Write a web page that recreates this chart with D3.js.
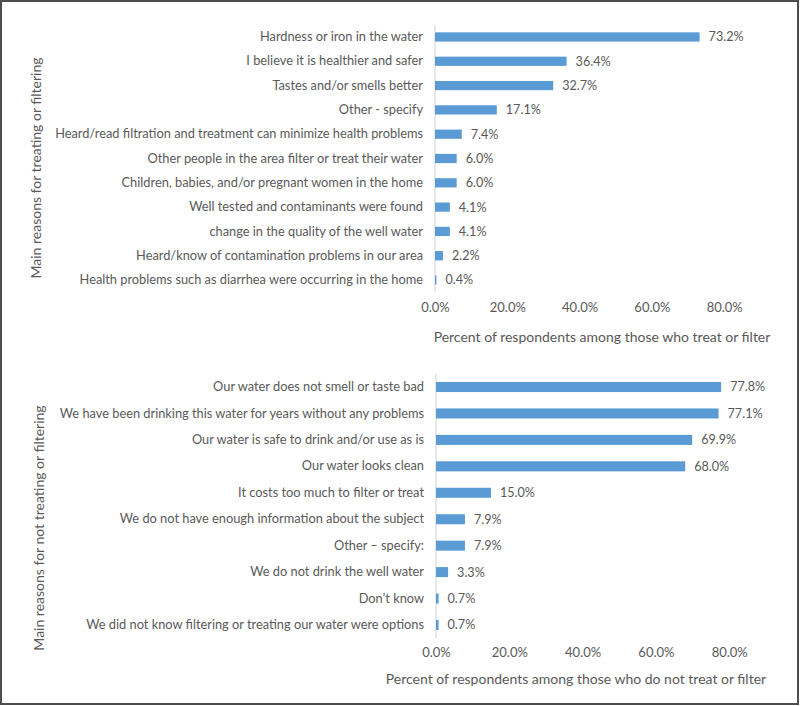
<!DOCTYPE html>
<html><head><meta charset="utf-8">
<script src="https://cdn.jsdelivr.net/npm/d3@7"></script>
<style>
body{margin:0;background:#fff;}
svg text{font-family:Lato, "Liberation Sans", sans-serif;fill:#595959;}
</style></head>
<body><svg id="c" width="800" height="706"></svg>
<script>
const treatCategories = [
  "Hardness or iron in the water",
  "I believe it is healthier and safer",
  "Tastes and/or smells better",
  "Other - specify",
  "Heard/read filtration and treatment can minimize health problems",
  "Other people in the area filter or treat their water",
  "Children, babies, and/or pregnant women in the home",
  "Well tested and contaminants were found",
  "change in the quality of the well water",
  "Heard/know of contamination problems in our area",
  "Health problems such as diarrhea were occurring in the home"
];
const treatValues = [73.2, 36.4, 32.7, 17.1, 7.4, 6.0, 6.0, 4.1, 4.1, 2.2, 0.4];

const notTreatCategories = [
  "Our water does not smell or taste bad",
  "We have been drinking this water for years without any problems",
  "Our water is safe to drink and/or use as is",
  "Our water looks clean",
  "It costs too much to filter or treat",
  "We do not have enough information about the subject",
  "Other \u2013 specify:",
  "We do not drink the well water",
  "Don\u2019t know",
  "We did not know filtering or treating our water were options"
];
const notTreatValues = [77.8, 77.1, 69.9, 68.0, 15.0, 7.9, 7.9, 3.3, 0.7, 0.7];

const tickValues = [0, 20, 40, 60, 80];

const svg = d3.select("#c");
svg.append("rect").attr("x",1).attr("y",1).attr("width",797).attr("height",703)
  .attr("fill","none").attr("stroke","#4d4d4d").attr("stroke-width",2);

function panel(cfg){
  const x = d3.scaleLinear().domain([0,80]).range([cfg.x0, cfg.x80]);
  const y = d3.scaleBand().domain(cfg.cats).range([cfg.y0, cfg.y1]).paddingInner(cfg.pad).paddingOuter(cfg.pad/2);
  const g = svg.append("g");
  const ya = g.append("g").attr("transform",`translate(${cfg.x0},0)`)
    .call(d3.axisLeft(y).tickSize(0).tickPadding(12));
  ya.select(".domain").attr("stroke","#d9d9d9").attr("stroke-width",1.2)
    .attr("d",`M0,${cfg.y0}V${cfg.y1}`);
  ya.selectAll("text").style("font-size","12.8px").attr("fill","#595959");
  g.selectAll("rect.bar").data(cfg.vals).join("rect").attr("class","bar")
    .attr("x", x(0)).attr("y",(d,i)=>y(cfg.cats[i]))
    .attr("width", d=>x(d)-x(0)).attr("height", y.bandwidth())
    .attr("fill","#5b9bd5");
  g.selectAll("text.val").data(cfg.vals).join("text").attr("class","val")
    .attr("x", d=>x(d)+9).attr("y",(d,i)=>y(cfg.cats[i])+y.bandwidth()/2)
    .attr("dy","0.35em").style("font-size","12.6px")
    .text(d=>d.toFixed(1)+"%");
  const xa = g.append("g").attr("transform",`translate(0,${cfg.tickY})`)
    .call(d3.axisBottom(x).tickValues(tickValues).tickSize(0).tickPadding(0).tickFormat(d=>d.toFixed(1)+"%"));
  xa.select(".domain").remove();
  xa.selectAll("text").style("font-size","13px").attr("fill","#595959");
  g.append("text").attr("x",cfg.xtX).attr("y",cfg.xtY).attr("text-anchor","middle")
    .style("font-size","14px").text(cfg.xTitle);
  g.append("text").attr("transform",`translate(${cfg.ytX},${cfg.ytY}) rotate(-90)`)
    .attr("text-anchor","middle").style("font-size","14px").text(cfg.yTitle);
}

panel({cats:treatCategories, vals:treatValues, x0:435, x80:724.2, y0:24.8, y1:292.2, pad:0.62,
  tickY:303, xtX:602, xtY:342, xTitle:"Percent of respondents among those who treat or filter",
  ytX:41, ytY:168, yTitle:"Main reasons for treating or filtering"});
panel({cats:notTreatCategories, vals:notTreatValues, x0:436, x80:729.2, y0:373.8, y1:638.2, pad:0.62,
  tickY:648, xtX:576, xtY:684, xTitle:"Percent of respondents among those who do not treat or filter",
  ytX:44, ytY:528, yTitle:"Main reasons for not treating or filtering"});
</script></body></html>
